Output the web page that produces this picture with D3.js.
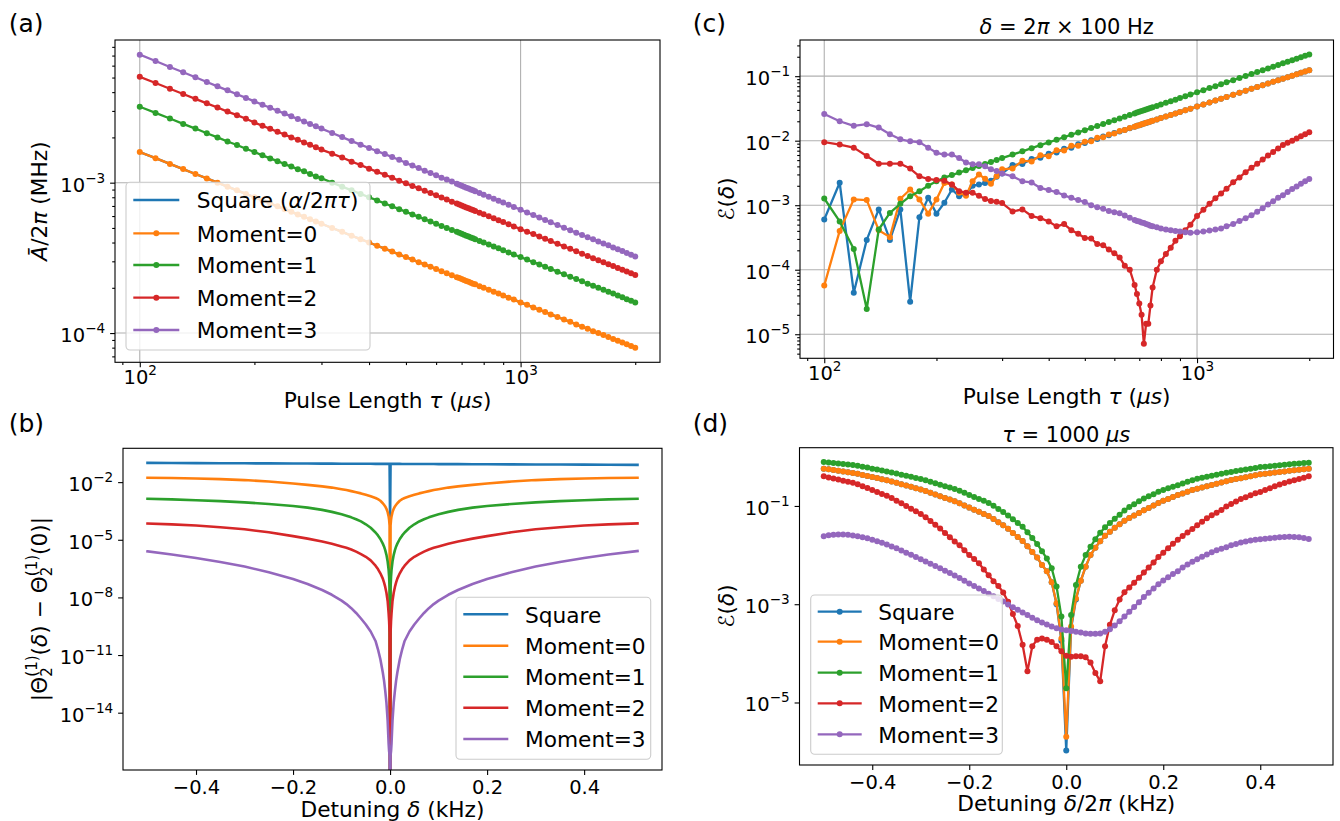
<!DOCTYPE html>
<html>
<head>
<meta charset="utf-8">
<script src="https://cdn.jsdelivr.net/npm/d3@7"></script>
<style>
  body { margin: 0; background: #fff; }
  text { white-space: pre; }
</style>
</head>
<body>
<div id="chart"></div>
<script>
// ---------- DATA ----------
// pulse lengths (us), shared by panels (a) and (c)
const tauGrid = [100,110,120,130,140,150,160,170,180,190,200,210,220,230,240,250,260,270,280,290,300,
  320,340,360,380,400,420,440,460,480,500,520,540,560,580,600,
  620,640,660,680,690,700,710,720,730,740,750,760,780,800,
  825,850,875,900,930,960,1000,
  1040,1080,1120,1160,1200,1250,1300,1350,1400,1450,1500,1550,1600,1650,1700,1750,1800,1850,1900,1950,2000];

// (a) mean amplitude A/2pi (MHz)
const ampSquare = [1.6e-3,1.455e-3,1.333e-3,1.231e-3,1.143e-3,1.067e-3,1.0e-3,9.41e-4,8.89e-4,8.42e-4,8.0e-4,7.62e-4,7.27e-4,6.96e-4,6.67e-4,6.4e-4,6.15e-4,5.93e-4,5.71e-4,5.52e-4,5.33e-4,
  5.0e-4,4.71e-4,4.44e-4,4.21e-4,4.0e-4,3.81e-4,3.64e-4,3.48e-4,3.33e-4,3.2e-4,3.08e-4,2.96e-4,2.86e-4,2.76e-4,2.67e-4,
  2.58e-4,2.5e-4,2.42e-4,2.35e-4,2.32e-4,2.29e-4,2.25e-4,2.22e-4,2.19e-4,2.16e-4,2.13e-4,2.11e-4,2.05e-4,2.0e-4,
  1.94e-4,1.88e-4,1.83e-4,1.78e-4,1.72e-4,1.67e-4,1.6e-4,
  1.54e-4,1.48e-4,1.43e-4,1.38e-4,1.33e-4,1.28e-4,1.23e-4,1.19e-4,1.14e-4,1.10e-4,1.07e-4,1.03e-4,1.0e-4,9.70e-5,9.41e-5,9.14e-5,8.89e-5,8.65e-5,8.42e-5,8.21e-5,8.0e-5];
const ampM0 = [1.6e-3,1.455e-3,1.333e-3,1.231e-3,1.143e-3,1.067e-3,1.0e-3,9.41e-4,8.89e-4,8.42e-4,8.0e-4,7.62e-4,7.27e-4,6.96e-4,6.67e-4,6.4e-4,6.15e-4,5.93e-4,5.71e-4,5.52e-4,5.33e-4,
  5.0e-4,4.71e-4,4.44e-4,4.21e-4,4.0e-4,3.81e-4,3.64e-4,3.48e-4,3.33e-4,3.2e-4,3.08e-4,2.96e-4,2.86e-4,2.76e-4,2.67e-4,
  2.58e-4,2.5e-4,2.42e-4,2.35e-4,2.32e-4,2.29e-4,2.25e-4,2.22e-4,2.19e-4,2.16e-4,2.13e-4,2.11e-4,2.05e-4,2.0e-4,
  1.94e-4,1.88e-4,1.83e-4,1.78e-4,1.72e-4,1.67e-4,1.6e-4,
  1.54e-4,1.48e-4,1.43e-4,1.38e-4,1.33e-4,1.28e-4,1.23e-4,1.19e-4,1.14e-4,1.10e-4,1.07e-4,1.03e-4,1.0e-4,9.70e-5,9.41e-5,9.14e-5,8.89e-5,8.65e-5,8.42e-5,8.21e-5,8.0e-5];
const ampM1 = [3.2e-3,2.91e-3,2.67e-3,2.46e-3,2.29e-3,2.13e-3,2.0e-3,1.88e-3,1.78e-3,1.68e-3,1.6e-3,1.52e-3,1.45e-3,1.39e-3,1.33e-3,1.28e-3,1.23e-3,1.19e-3,1.14e-3,1.10e-3,1.07e-3,
  1.0e-3,9.41e-4,8.89e-4,8.42e-4,8.0e-4,7.62e-4,7.27e-4,6.96e-4,6.67e-4,6.4e-4,6.15e-4,5.93e-4,5.71e-4,5.52e-4,5.33e-4,
  5.16e-4,5.0e-4,4.85e-4,4.71e-4,4.64e-4,4.57e-4,4.51e-4,4.44e-4,4.38e-4,4.32e-4,4.27e-4,4.21e-4,4.10e-4,4.0e-4,
  3.88e-4,3.76e-4,3.66e-4,3.56e-4,3.44e-4,3.33e-4,3.2e-4,
  3.08e-4,2.96e-4,2.86e-4,2.76e-4,2.67e-4,2.56e-4,2.46e-4,2.37e-4,2.29e-4,2.21e-4,2.13e-4,2.06e-4,2.0e-4,1.94e-4,1.88e-4,1.83e-4,1.78e-4,1.73e-4,1.68e-4,1.64e-4,1.6e-4];
const ampM2 = [5.06e-3,4.60e-3,4.21e-3,3.89e-3,3.61e-3,3.37e-3,3.16e-3,2.97e-3,2.81e-3,2.66e-3,2.51e-3,2.39e-3,2.28e-3,2.18e-3,2.09e-3,2.0e-3,1.93e-3,1.85e-3,1.79e-3,1.72e-3,1.66e-3,
  1.56e-3,1.47e-3,1.38e-3,1.31e-3,1.24e-3,1.18e-3,1.13e-3,1.08e-3,1.03e-3,9.9e-4,9.52e-4,9.17e-4,8.84e-4,8.53e-4,8.24e-4,
  7.97e-4,7.72e-4,7.48e-4,7.26e-4,7.15e-4,7.05e-4,6.94e-4,6.85e-4,6.75e-4,6.66e-4,6.57e-4,6.49e-4,6.32e-4,6.16e-4,
  5.97e-4,5.79e-4,5.63e-4,5.47e-4,5.29e-4,5.12e-4,4.91e-4,
  4.72e-4,4.55e-4,4.38e-4,4.23e-4,4.09e-4,3.92e-4,3.77e-4,3.63e-4,3.50e-4,3.37e-4,3.26e-4,3.15e-4,3.05e-4,2.96e-4,2.87e-4,2.79e-4,2.71e-4,2.64e-4,2.57e-4,2.50e-4,2.43e-4];
const ampM3 = [7.10e-3,6.44e-3,5.88e-3,5.42e-3,5.02e-3,4.67e-3,4.37e-3,4.11e-3,3.87e-3,3.66e-3,3.47e-3,3.30e-3,3.15e-3,3.01e-3,2.88e-3,2.76e-3,2.65e-3,2.55e-3,2.46e-3,2.37e-3,2.29e-3,
  2.14e-3,2.01e-3,1.89e-3,1.79e-3,1.70e-3,1.62e-3,1.55e-3,1.48e-3,1.42e-3,1.35e-3,1.30e-3,1.25e-3,1.20e-3,1.16e-3,1.12e-3,
  1.08e-3,1.05e-3,1.02e-3,9.83e-4,9.68e-4,9.54e-4,9.40e-4,9.27e-4,9.14e-4,9.01e-4,8.89e-4,8.77e-4,8.55e-4,8.31e-4,
  8.06e-4,7.82e-4,7.59e-4,7.38e-4,7.13e-4,6.90e-4,6.60e-4,
  6.33e-4,6.09e-4,5.86e-4,5.65e-4,5.46e-4,5.23e-4,5.02e-4,4.83e-4,4.65e-4,4.49e-4,4.34e-4,4.20e-4,4.07e-4,3.94e-4,3.83e-4,3.71e-4,3.61e-4,3.51e-4,3.41e-4,3.32e-4,3.23e-4];

// (c) error E(delta) at delta = 2pi x 100 Hz vs pulse length
const errTauSquare = [6.0e-4,2.23e-3,4.4e-5,2.9e-4,8.6e-4,2.9e-4,8.6e-4,3.2e-5,6.5e-4,1.3e-3,7.4e-4,1.09e-3,1.75e-3,1.38e-3,1.47e-3,2.0e-3,2.1e-3,2.2e-3,2.4e-3,2.75e-3,3.1e-3,
  4.19e-3,4.37e-3,5.22e-3,5.45e-3,6.30e-3,6.57e-3,7.53e-3,7.78e-3,8.77e-3,9.19e-3,1.02e-2,1.06e-2,1.16e-2,1.21e-2,1.32e-2,
  1.39e-2,1.47e-2,1.56e-2,1.65e-2,1.70e-2,1.74e-2,1.79e-2,1.84e-2,1.88e-2,1.93e-2,1.98e-2,2.03e-2,2.13e-2,2.24e-2,
  2.37e-2,2.50e-2,2.64e-2,2.79e-2,2.96e-2,3.14e-2,3.39e-2,
  3.65e-2,3.92e-2,4.19e-2,4.48e-2,4.77e-2,5.15e-2,5.54e-2,5.94e-2,6.36e-2,6.80e-2,7.24e-2,7.70e-2,8.17e-2,8.66e-2,9.15e-2,9.66e-2,0.1018,0.1072,0.1127,0.1182,0.124];
const errTauM0 = [5.7e-5,4.0e-4,1.23e-3,1.2e-3,4.1e-4,3.2e-4,1.26e-3,1.75e-3,1.23e-3,7.4e-4,1.23e-3,2.2e-3,2.1e-3,1.56e-3,1.4e-3,2.36e-3,3.0e-3,2.57e-3,2.15e-3,2.8e-3,3.6e-3,
  3.71e-3,4.87e-3,4.77e-3,5.95e-3,5.75e-3,7.10e-3,7.02e-3,8.34e-3,8.34e-3,9.65e-3,9.79e-3,1.11e-2,1.13e-2,1.25e-2,1.29e-2,
  1.41e-2,1.46e-2,1.57e-2,1.65e-2,1.71e-2,1.73e-2,1.80e-2,1.83e-2,1.89e-2,1.93e-2,1.98e-2,2.03e-2,2.13e-2,2.24e-2,
  2.37e-2,2.50e-2,2.64e-2,2.79e-2,2.96e-2,3.14e-2,3.39e-2,
  3.65e-2,3.92e-2,4.19e-2,4.48e-2,4.77e-2,5.15e-2,5.54e-2,5.94e-2,6.36e-2,6.80e-2,7.24e-2,7.70e-2,8.17e-2,8.66e-2,9.15e-2,9.66e-2,0.1018,0.1072,0.1127,0.1182,0.124];
const errTauM1 = [1.27e-3,5.6e-4,2.1e-4,2.46e-5,4.2e-4,7.6e-4,1.05e-3,1.38e-3,1.65e-3,2.0e-3,2.35e-3,2.68e-3,2.93e-3,3.20e-3,3.47e-3,3.76e-3,4.06e-3,4.37e-3,4.69e-3,5.03e-3,5.37e-3,
  6.09e-3,6.85e-3,7.66e-3,8.51e-3,9.41e-3,1.035e-2,1.133e-2,1.236e-2,1.342e-2,1.454e-2,1.57e-2,1.69e-2,1.814e-2,1.942e-2,2.075e-2,
  2.212e-2,2.353e-2,2.498e-2,2.648e-2,2.724e-2,2.803e-2,2.882e-2,2.96e-2,3.041e-2,3.123e-2,3.206e-2,3.289e-2,3.46e-2,3.636e-2,
  3.861e-2,4.091e-2,4.329e-2,4.573e-2,4.876e-2,5.188e-2,5.618e-2,
  6.06e-2,6.53e-2,7.01e-2,7.50e-2,8.02e-2,8.68e-2,9.37e-2,0.1008,0.1082,0.1159,0.1238,0.132,0.1404,0.1492,0.158,0.1673,0.1768,0.1865,0.1964,0.2065,0.217];
const errTauM2 = [9.5e-3,8.7e-3,7.8e-3,5.8e-3,4.4e-3,4.4e-3,4.4e-3,3.7e-3,2.8e-3,2.55e-3,2.45e-3,2.4e-3,2.1e-3,1.65e-3,1.56e-3,1.56e-3,1.4e-3,1.25e-3,1.16e-3,1.13e-3,1.08e-3,
  8.0e-4,8.6e-4,6.8e-4,6.3e-4,5.6e-4,4.7e-4,5.1e-4,4.1e-4,3.6e-4,3.1e-4,3.05e-4,2.5e-4,2.4e-4,2.05e-4,1.8e-4,
  1.55e-4,1.15e-4,1.0e-4,5.8e-5,4.2e-5,3.0e-5,2.0e-5,7.1e-6,1.45e-5,1.45e-5,2.8e-5,5.3e-5,1.0e-4,1.35e-4,
  1.75e-4,2.2e-4,2.8e-4,3.3e-4,4.1e-4,5.0e-4,6.8e-4,
  8.5e-4,1.05e-3,1.28e-3,1.52e-3,1.8e-3,2.27e-3,2.7e-3,3.25e-3,3.8e-3,4.4e-3,5.1e-3,5.9e-3,6.7e-3,7.6e-3,8.6e-3,9.3e-3,1.0e-2,1.08e-2,1.17e-2,1.26e-2,1.35e-2];
const errTauM3 = [2.6e-2,2.0e-2,1.7e-2,1.8e-2,1.6e-2,1.26e-2,1.05e-2,9.8e-3,9.5e-3,7.8e-3,6.5e-3,6.1e-3,6.1e-3,5.4e-3,4.6e-3,4.3e-3,4.3e-3,4.0e-3,3.6e-3,3.4e-3,3.1e-3,
  2.8e-3,2.35e-3,2.25e-3,1.85e-3,1.72e-3,1.6e-3,1.42e-3,1.3e-3,1.2e-3,1.12e-3,1.0e-3,9.3e-4,8.8e-4,8.1e-4,7.8e-4,
  7.5e-4,6.9e-4,6.4e-4,5.9e-4,5.7e-4,5.6e-4,5.4e-4,5.3e-4,5.1e-4,5.0e-4,4.8e-4,4.7e-4,4.55e-4,4.35e-4,
  4.2e-4,4.1e-4,4.0e-4,3.9e-4,3.8e-4,3.75e-4,3.8e-4,
  3.9e-4,4.05e-4,4.2e-4,4.35e-4,4.7e-4,5.1e-4,5.7e-4,6.3e-4,7.0e-4,7.9e-4,9.0e-4,1.03e-3,1.15e-3,1.3e-3,1.43e-3,1.6e-3,1.78e-3,1.95e-3,2.15e-3,2.35e-3,2.55e-3];

// (b) |Theta - Theta(0)| vs detuning (kHz); 0 = exact zero (drops off the log axis)
const detB = [-0.5,-0.45,-0.4,-0.35,-0.3,-0.25,-0.2,-0.17,-0.14,-0.12,-0.1,-0.09,-0.08,-0.07,-0.06,-0.05,-0.04,-0.03,-0.025,-0.02,-0.015,-0.0125,-0.01,-0.0075,-0.005,-0.003,-0.002,-0.001,
  0,
  0.001,0.002,0.003,0.005,0.0075,0.01,0.0125,0.015,0.02,0.025,0.03,0.04,0.05,0.06,0.07,0.08,0.09,0.1,0.12,0.14,0.17,0.2,0.25,0.3,0.35,0.4,0.45,0.51];
const thetaSquare = [0.100,0.0989,0.0977,0.0966,0.0955,0.0944,0.0933,0.0927,0.0920,0.0916,0.0912,0.0910,0.0908,0.0906,0.0904,0.0902,0.0899,0.0897,0.0896,0.0895,0.0894,0.0894,0.0893,0.0893,0.0892,0.0892,0.0892,0.0891,
  1.1e-4,
  0.0891,0.0891,0.0891,0.0890,0.0890,0.0889,0.0889,0.0888,0.0887,0.0886,0.0885,0.0883,0.0881,0.0879,0.0876,0.0874,0.0872,0.0870,0.0866,0.0862,0.0856,0.0850,0.0840,0.0830,0.0821,0.0812,0.0802,0.0791];
const thetaM0 = [1.69e-2,1.63e-2,1.55e-2,1.43e-2,1.28e-2,1.07e-2,8.5e-3,7.2e-3,6.0e-3,5.2e-3,4.3e-3,3.9e-3,3.4e-3,3.0e-3,2.6e-3,2.2e-3,1.85e-3,1.5e-3,1.3e-3,1.07e-3,8.0e-4,6.6e-4,5.45e-4,4.1e-4,2.75e-4,1.65e-4,1.1e-4,5.5e-5,
  0,
  5.5e-5,1.1e-4,1.65e-4,2.75e-4,4.1e-4,5.45e-4,6.6e-4,8.0e-4,1.07e-3,1.3e-3,1.5e-3,1.85e-3,2.2e-3,2.6e-3,3.0e-3,3.4e-3,3.9e-3,4.3e-3,5.2e-3,6.0e-3,7.2e-3,8.5e-3,1.07e-2,1.28e-2,1.43e-2,1.55e-2,1.63e-2,1.7e-2];
const thetaM1 = [1.36e-3,1.27e-3,1.15e-3,1.03e-3,8.8e-4,7.3e-4,5.7e-4,4.7e-4,3.59e-4,2.83e-4,2.13e-4,1.8e-4,1.47e-4,1.17e-4,9.0e-5,6.4e-5,4.2e-5,2.4e-5,1.68e-5,1.1e-5,6.3e-6,4.5e-6,2.9e-6,1.65e-6,7.4e-7,2.7e-7,1.2e-7,3.0e-8,
  0,
  3.0e-8,1.2e-7,2.7e-7,7.4e-7,1.65e-6,2.9e-6,4.5e-6,6.3e-6,1.1e-5,1.68e-5,2.4e-5,4.2e-5,6.4e-5,9.0e-5,1.17e-4,1.47e-4,1.8e-4,2.13e-4,2.83e-4,3.59e-4,4.7e-4,5.7e-4,7.3e-4,8.8e-4,1.03e-3,1.15e-3,1.27e-3,1.37e-3];
const thetaM2 = [7.0e-5,6.3e-5,5.5e-5,4.5e-5,3.5e-5,2.45e-5,1.55e-5,1.15e-5,8.2e-6,6.2e-6,4.5e-6,3.8e-6,3.1e-6,2.4e-6,1.8e-6,1.3e-6,8.5e-7,4.5e-7,3.0e-7,1.8e-7,9.5e-8,6.0e-8,3.5e-8,1.75e-8,6.5e-9,1.5e-9,6.0e-10,1.4e-10,
  0,
  1.4e-10,6.0e-10,1.5e-9,6.5e-9,1.75e-8,3.5e-8,6.0e-8,9.5e-8,1.8e-7,3.0e-7,4.5e-7,8.5e-7,1.3e-6,1.8e-6,2.4e-6,3.1e-6,3.8e-6,4.5e-6,6.2e-6,8.2e-6,1.15e-5,1.55e-5,2.45e-5,3.5e-5,4.5e-5,5.5e-5,6.3e-5,7.1e-5];
const thetaM3 = [2.5e-6,1.7e-6,1.12e-6,7.0e-7,4.1e-7,2.02e-7,9.1e-8,5.0e-8,2.43e-8,1.37e-8,6.8e-9,4.5e-9,2.76e-9,1.55e-9,8.0e-10,3.9e-10,1.68e-10,5.4e-11,2.0e-11,6.0e-12,1.24e-12,4.8e-13,1.4e-13,3.3e-14,3.8e-15,2.5e-16,1.0e-16,6.0e-17,
  0,
  6.0e-17,1.0e-16,2.5e-16,3.8e-15,3.3e-14,1.4e-13,4.8e-13,1.24e-12,6.0e-12,2.0e-11,5.4e-11,1.68e-10,3.9e-10,8.0e-10,1.55e-9,2.76e-9,4.5e-9,6.8e-9,1.37e-8,2.43e-8,5.0e-8,9.1e-8,2.02e-7,4.1e-7,7.0e-7,1.12e-6,1.7e-6,2.6e-6];

// (d) error E(delta) at tau = 1000 us vs detuning delta/2pi (kHz)
const detD = [-0.5,-0.49,-0.48,-0.47,-0.46,-0.45,-0.44,-0.43,-0.42,-0.41,-0.4,-0.39,-0.38,-0.37,-0.36,-0.35,-0.34,-0.33,-0.32,-0.31,
  -0.3,-0.29,-0.28,-0.27,-0.26,-0.25,-0.24,-0.23,-0.22,-0.21,-0.2,-0.19,-0.18,-0.17,-0.16,-0.15,-0.14,-0.13,-0.12,-0.11,
  -0.1,-0.09,-0.08,-0.07,-0.06,-0.05,-0.04,-0.03,-0.02,-0.01,0,0.01,0.02,0.03,0.04,0.05,0.06,0.07,0.08,0.09,0.1,
  0.11,0.12,0.13,0.14,0.15,0.16,0.17,0.18,0.19,0.2,0.21,0.22,0.23,0.24,0.25,0.26,0.27,0.28,0.29,0.3,
  0.31,0.32,0.33,0.34,0.35,0.36,0.37,0.38,0.39,0.4,0.41,0.42,0.43,0.44,0.45,0.46,0.47,0.48,0.49,0.5];
const errDetSquare = [0.575,0.556,0.537,0.519,0.501,0.484,0.468,0.450,0.429,0.407,
  0.388,0.369,0.351,0.334,0.315,0.296,0.278,0.261,0.245,0.230,
  0.216,0.201,0.185,0.171,0.158,0.146,0.135,0.124,0.113,0.102,
  0.0927,0.0838,0.0758,0.0686,0.0621,0.0543,0.0468,0.0403,0.0343,0.0283,
  0.0234,0.0193,0.0151,0.0116,8.9e-3,6.3e-3,4.7e-3,2.8e-3,1.0e-3,1.8e-4,
  1.05e-6,
  3.2e-4,1.25e-3,3.0e-3,5.8e-3,0.0100,0.0141,0.0192,0.0248,0.0300,0.0361,
  0.0424,0.0497,0.0570,0.0642,0.0722,0.0813,0.0912,0.102,0.115,0.127,
  0.139,0.153,0.167,0.180,0.195,0.210,0.224,0.238,0.252,0.268,
  0.284,0.301,0.320,0.336,0.352,0.367,0.385,0.403,0.421,0.441,
  0.453,0.465,0.478,0.491,0.504,0.518,0.533,0.547,0.561,0.575];
const errDetM0 = [0.575,0.556,0.537,0.519,0.501,0.484,0.468,0.450,0.429,0.407,
  0.388,0.369,0.351,0.334,0.315,0.296,0.278,0.261,0.245,0.230,
  0.216,0.201,0.185,0.171,0.158,0.146,0.135,0.124,0.113,0.102,
  0.0927,0.0838,0.0758,0.0686,0.0621,0.0543,0.0468,0.0403,0.0343,0.0283,
  0.0234,0.0193,0.0151,0.0116,8.9e-3,6.3e-3,4.7e-3,2.8e-3,1.05e-3,2.0e-4,
  2.0e-6,
  3.5e-4,1.3e-3,3.0e-3,5.8e-3,0.0100,0.0141,0.0192,0.0248,0.0300,0.0361,
  0.0424,0.0497,0.0570,0.0642,0.0722,0.0813,0.0912,0.102,0.115,0.127,
  0.139,0.153,0.167,0.180,0.195,0.210,0.224,0.238,0.252,0.268,
  0.284,0.301,0.320,0.336,0.352,0.367,0.385,0.403,0.421,0.441,
  0.453,0.465,0.478,0.491,0.504,0.518,0.533,0.547,0.561,0.575];
const errDetM1 = [0.78,0.764,0.746,0.729,0.713,0.697,0.681,0.655,0.631,0.603,
  0.575,0.551,0.526,0.502,0.480,0.456,0.433,0.411,0.391,0.371,
  0.352,0.332,0.310,0.290,0.271,0.253,0.237,0.221,0.203,0.185,
  0.168,0.153,0.139,0.127,0.115,0.101,0.087,0.075,0.064,0.0537,
  0.045,0.0377,0.0292,0.0222,0.0169,0.012,8.5e-3,5.4e-3,2.3e-3,5.6e-4,
  1.95e-5,
  6.0e-4,2.45e-3,5.8e-3,0.0100,0.0147,0.0211,0.0285,0.0368,0.0448,0.0546,
  0.0664,0.0807,0.0952,0.1086,0.124,0.141,0.157,0.174,0.194,0.211,
  0.228,0.246,0.265,0.286,0.310,0.335,0.356,0.373,0.392,0.411,
  0.432,0.453,0.475,0.493,0.512,0.531,0.551,0.573,0.594,0.617,
  0.631,0.646,0.661,0.676,0.692,0.708,0.724,0.735,0.746,0.759];
const errDetM2 = [0.40,0.381,0.362,0.344,0.327,0.311,0.295,0.277,0.253,0.231,
  0.211,0.193,0.176,0.161,0.145,0.128,0.113,0.0998,0.0881,0.0778,
  0.0687,0.059,0.0494,0.0414,0.0347,0.0283,0.0231,0.0189,0.0158,0.0126,
  0.0100,8.3e-3,6.8e-3,5.1e-3,3.9e-3,2.95e-3,2.35e-3,1.74e-3,1.12e-3,6.3e-4,
  3.6e-4,1.5e-4,4.3e-5,1.4e-4,1.9e-4,2.0e-4,1.9e-4,1.7e-4,1.4e-4,1.1e-4,
  8.9e-5,
  8.5e-5,8.7e-5,8.7e-5,8.3e-5,6.5e-5,4.0e-5,2.7e-5,1.4e-4,3.8e-4,7.5e-4,
  1.25e-3,1.75e-3,2.2e-3,2.75e-3,3.45e-3,4.4e-3,5.6e-3,7.1e-3,9.1e-3,0.0112,
  0.0138,0.0170,0.0204,0.0245,0.0288,0.0339,0.0407,0.0479,0.0562,0.0646,
  0.0724,0.0832,0.0977,0.110,0.123,0.138,0.151,0.166,0.182,0.192,
  0.210,0.230,0.251,0.274,0.293,0.314,0.335,0.355,0.376,0.40];
const errDetM3 = [0.0243,0.0252,0.0259,0.0263,0.0262,0.0258,0.0251,0.0242,0.0231,0.0219,
  0.0206,0.0192,0.0178,0.0164,0.0150,0.0137,0.0124,0.0112,0.0101,9.1e-3,
  8.2e-3,7.4e-3,6.7e-3,6.0e-3,5.4e-3,4.8e-3,4.3e-3,3.85e-3,3.4e-3,3.0e-3,
  2.65e-3,2.35e-3,2.08e-3,1.85e-3,1.64e-3,1.45e-3,1.28e-3,1.13e-3,9.9e-4,8.7e-4,
  7.7e-4,6.8e-4,6.0e-4,5.3e-4,4.7e-4,4.25e-4,3.85e-4,3.5e-4,3.25e-4,3.05e-4,
  2.95e-4,
  2.85e-4,2.75e-4,2.65e-4,2.55e-4,2.5e-4,2.5e-4,2.55e-4,2.75e-4,3.1e-4,3.7e-4,
  4.5e-4,5.6e-4,7.0e-4,8.8e-4,1.1e-3,1.4e-3,1.72e-3,2.1e-3,2.55e-3,3.05e-3,
  3.55e-3,4.1e-3,4.7e-3,5.6e-3,6.4e-3,7.3e-3,8.2e-3,9.2e-3,0.0103,0.0114,
  0.0125,0.0135,0.0145,0.0158,0.0169,0.0180,0.0189,0.0197,0.0204,0.0210,
  0.0216,0.0221,0.0226,0.0230,0.0233,0.0235,0.0234,0.0230,0.0224,0.0213];

const seriesNames = ["Square", "Moment=0", "Moment=1", "Moment=2", "Moment=3"];
const logMajorTau = [100, 1000];
const logMinorTau = [90, 200, 300, 400, 500, 600, 700, 800, 900, 2000];
const detTicks = [-0.4, -0.2, 0, 0.2, 0.4];

// ---------- SETUP ----------
const W = 1340, H = 821;
const FONT = "DejaVu Sans";
const colors = ["#1f77b4", "#ff7f0e", "#2ca02c", "#d62728", "#9467bd"];
const LW = 2.3, MR = 3.0;
const FS_TICK = 19.5, FS_LABEL = 21.7;

const svg = d3.select("#chart").append("svg")
  .attr("width", W).attr("height", H)
  .attr("font-family", FONT);
svg.append("rect").attr("width", W).attr("height", H).attr("fill", "#fff");
const defs = svg.append("defs");

function logDomain(arrays) {
  const all = arrays.flat().filter(v => v > 0);
  const lo = Math.log10(d3.min(all)), hi = Math.log10(d3.max(all));
  const pad = (hi - lo) * 0.05;
  return [Math.pow(10, lo - pad), Math.pow(10, hi + pad)];
}
function linDomain(arr) {
  const [lo, hi] = d3.extent(arr);
  const pad = (hi - lo) * 0.05;
  return [lo - pad, hi + pad];
}
function decades(dom) {
  const out = [];
  for (let e = Math.ceil(Math.log10(dom[0]) - 1e-9); e <= Math.floor(Math.log10(dom[1]) + 1e-9); e++) out.push(Math.pow(10, e));
  return out;
}
function minors(dom) {
  const out = [];
  for (let e = Math.floor(Math.log10(dom[0])); e <= Math.ceil(Math.log10(dom[1])); e++)
    for (let k = 2; k <= 9; k++) { const v = k * Math.pow(10, e); if (v >= dom[0] && v <= dom[1]) out.push(v); }
  return out;
}

// rich text: parts = [[string, italic?], ...]
function rich(t, parts) {
  parts.forEach(([s, it]) => t.append("tspan").attr("font-style", it ? "italic" : null).text(s));
  return t;
}

function styleAxis(a) {
  a.attr("font-family", FONT).attr("font-size", FS_TICK);
  a.select(".domain").remove();
  a.selectAll(".tick line").attr("stroke", "#000").attr("stroke-width", 1.1);
  a.selectAll(".tick text").attr("fill", "#000");
}
function powLabels(a, dy) {
  a.selectAll(".tick text").each(function (d) {
    const e = Math.round(Math.log10(d));
    const t = d3.select(this).text(null).attr("dy", dy);
    t.append("tspan").text("10");
    t.append("tspan").attr("dy", -9).attr("font-size", 13.6).text(e < 0 ? "\u2212" + (-e) : String(e));
  });
}

function panel(cfg) {
  const b = cfg.box;
  const g = svg.append("g");
  defs.append("clipPath").attr("id", cfg.id).append("rect")
    .attr("x", b.x0).attr("y", b.y0).attr("width", b.x1 - b.x0).attr("height", b.y1 - b.y0);
  if (cfg.grid) {
    const gg = g.append("g").attr("stroke", "#b0b0b0").attr("stroke-width", 1.1);
    gg.selectAll(".gx").data(cfg.xMajor).join("line")
      .attr("x1", d => cfg.x(d)).attr("x2", d => cfg.x(d)).attr("y1", b.y0).attr("y2", b.y1);
    gg.selectAll(".gy").data(cfg.yMajor).join("line")
      .attr("y1", d => cfg.y(d)).attr("y2", d => cfg.y(d)).attr("x1", b.x0).attr("x2", b.x1);
  }
  const plot = g.append("g").attr("clip-path", `url(#${cfg.id})`);
  return { g, plot, cfg };
}

function finish(p) {
  const { g, cfg } = p, b = cfg.box;
  const bx = g.append("g").attr("transform", `translate(0,${b.y1})`)
    .call(d3.axisBottom(cfg.x).tickValues(cfg.xMajor).tickSize(4.9).tickPadding(4.9)
      .tickFormat(cfg.xlog ? (d => d) : d3.format(".1f")));
  styleAxis(bx);
  if (cfg.xlog) powLabels(bx, "0.62em");
  if (cfg.xMinor) {
    const m = g.append("g").attr("transform", `translate(0,${b.y1})`)
      .call(d3.axisBottom(cfg.x).tickValues(cfg.xMinor).tickSize(2.8).tickFormat(""));
    styleAxis(m);
  }
  const by = g.append("g").attr("transform", `translate(${b.x0},0)`)
    .call(d3.axisLeft(cfg.y).tickValues(cfg.yMajor).tickSize(4.9).tickPadding(4.9).tickFormat(d => d));
  styleAxis(by);
  powLabels(by, "0.43em");
  if (cfg.yMinor) {
    const m = g.append("g").attr("transform", `translate(${b.x0},0)`)
      .call(d3.axisLeft(cfg.y).tickValues(cfg.yMinor).tickSize(2.8).tickFormat(""));
    styleAxis(m);
  }
  g.append("rect").attr("x", b.x0).attr("y", b.y0).attr("width", b.x1 - b.x0).attr("height", b.y1 - b.y0)
    .attr("fill", "none").attr("stroke", "#000").attr("stroke-width", 1.1);
}

function drawSeries(p, xv, yv, color, marker, lw) {
  const { x, y, box } = p.cfg;
  const pts = xv.map((xx, i) => [x(xx), yv[i] > 0 ? y(yv[i]) : box.y1 + 80]);
  p.plot.append("path").attr("d", d3.line()(pts))
    .attr("fill", "none").attr("stroke", color).attr("stroke-width", lw)
    .attr("stroke-linejoin", "round").attr("stroke-linecap", "square");
  if (marker) {
    p.plot.append("g").attr("fill", color).selectAll("circle").data(pts).join("circle")
      .attr("cx", d => d[0]).attr("cy", d => d[1]).attr("r", MR);
  }
}

function legend(spec) {
  const lg = svg.append("g");
  const [x0, y0, x1, y1] = spec.box;
  lg.append("rect").attr("x", x0).attr("y", y0).attr("width", x1 - x0).attr("height", y1 - y0)
    .attr("rx", 4).attr("fill", "#fff").attr("fill-opacity", 0.8)
    .attr("stroke", "#cccccc").attr("stroke-width", 1.1);
  spec.items.forEach((it, i) => {
    const yy = spec.rows[i];
    lg.append("line").attr("x1", spec.hx[0]).attr("x2", spec.hx[1]).attr("y1", yy).attr("y2", yy)
      .attr("stroke", it.color).attr("stroke-width", spec.lw || LW);
    if (it.marker) lg.append("circle").attr("cx", (spec.hx[0] + spec.hx[1]) / 2).attr("cy", yy).attr("r", MR).attr("fill", it.color);
    const t = lg.append("text").attr("x", spec.tx).attr("y", yy + 8.2).attr("font-size", FS_LABEL);
    rich(t, it.parts);
  });
}

function xLabel(x, y, parts) {
  rich(svg.append("text").attr("x", x).attr("y", y).attr("text-anchor", "middle").attr("font-size", FS_LABEL), parts);
}
function yLabel(x, y, parts) {
  return rich(svg.append("text").attr("transform", `translate(${x},${y}) rotate(-90)`)
    .attr("text-anchor", "middle").attr("font-size", FS_LABEL), parts);
}
function panelTag(x, y, s) {
  svg.append("text").attr("x", x).attr("y", y).attr("font-size", 25).text(s);
}

// ---------- PANEL (a) ----------
const boxA = { x0: 115, x1: 660, y0: 40, y1: 362.3 };
const xDomTau = (() => { const e = d3.extent(tauGrid); const l0 = Math.log10(e[0]), l1 = Math.log10(e[1]), p = (l1 - l0) * 0.05; return [Math.pow(10, l0 - p), Math.pow(10, l1 + p)]; })();
const yDomA = logDomain([ampSquare, ampM0, ampM1, ampM2, ampM3]);
const pA = panel({
  id: "clipA", box: boxA, grid: true, xlog: true,
  x: d3.scaleLog().domain(xDomTau).range([boxA.x0, boxA.x1]),
  y: d3.scaleLog().domain(yDomA).range([boxA.y1, boxA.y0]),
  xMajor: logMajorTau, xMinor: logMinorTau,
  yMajor: decades(yDomA), yMinor: minors(yDomA)
});
[ampSquare, ampM0, ampM1, ampM2, ampM3].forEach((s, i) => drawSeries(pA, tauGrid, s, colors[i], i > 0, LW));
finish(pA);
legend({
  box: [126, 182.3, 370, 350], rows: [200, 233.3, 265, 297.7, 330], hx: [133.3, 179.3], tx: 196.7,
  items: [
    { color: colors[0], marker: false, parts: [["Square (", 0], ["\u03b1", 1], ["/2", 0], ["\u03c0\u03c4", 1], [")", 0]] },
    { color: colors[1], marker: true, parts: [[seriesNames[1], 0]] },
    { color: colors[2], marker: true, parts: [[seriesNames[2], 0]] },
    { color: colors[3], marker: true, parts: [[seriesNames[3], 0]] },
    { color: colors[4], marker: true, parts: [[seriesNames[4], 0]] }
  ]
});
xLabel(387.5, 407.5, [["Pulse Length ", 0], ["\u03c4", 1], [" (", 0], ["\u03bcs", 1], [")", 0]]);
yLabel(47, 201, [["\u0100", 1], ["/2", 0], ["\u03c0", 1], [" (MHz)", 0]]);
panelTag(8.7, 31.7, "(a)");

// ---------- PANEL (c) ----------
const boxC = { x0: 800, x1: 1333.5, y0: 40, y1: 358.3 };
const yDomC = logDomain([errTauSquare, errTauM0, errTauM1, errTauM2, errTauM3]);
const pC = panel({
  id: "clipC", box: boxC, grid: true, xlog: true,
  x: d3.scaleLog().domain(xDomTau).range([boxC.x0, boxC.x1]),
  y: d3.scaleLog().domain(yDomC).range([boxC.y1, boxC.y0]),
  xMajor: logMajorTau, xMinor: logMinorTau,
  yMajor: decades(yDomC), yMinor: minors(yDomC)
});
[errTauSquare, errTauM0, errTauM1, errTauM2, errTauM3].forEach((s, i) => drawSeries(pC, tauGrid, s, colors[i], true, LW));
finish(pC);
xLabel(1066.7, 403.5, [["Pulse Length ", 0], ["\u03c4", 1], [" (", 0], ["\u03bcs", 1], [")", 0]]);
yLabel(734, 199, [["\u2130(", 0], ["\u03b4", 1], [")", 0]]);
rich(svg.append("text").attr("x", 1066.7).attr("y", 33.5).attr("text-anchor", "middle").attr("font-size", 21),
  [["\u03b4", 1], [" = 2", 0], ["\u03c0", 1], [" \u00d7 100 Hz", 0]]);
panelTag(692.7, 31.7, "(c)");

// ---------- PANEL (b) ----------
const boxB = { x0: 123, x1: 662, y0: 448.3, y1: 770 };
const yDomB = logDomain([thetaSquare, thetaM0, thetaM1, thetaM2, thetaM3]);
const pB = panel({
  id: "clipB", box: boxB, grid: false, xlog: false,
  x: d3.scaleLinear().domain(linDomain(detB)).range([boxB.x0, boxB.x1]),
  y: d3.scaleLog().domain(yDomB).range([boxB.y1, boxB.y0]),
  xMajor: detTicks,
  yMajor: [1e-2, 1e-5, 1e-8, 1e-11, 1e-14]
});
[thetaSquare, thetaM0, thetaM1, thetaM2, thetaM3].forEach((s, i) => drawSeries(pB, detB, s, colors[i], false, 2.6));
finish(pB);
legend({
  box: [456, 597.3, 650.7, 759.3], rows: [614.3, 645.7, 676.7, 707.7, 739], hx: [463.3, 508.3], tx: 525, lw: 2.6,
  items: seriesNames.map((n, i) => ({ color: colors[i], marker: false, parts: [[n, 0]] }))
});
xLabel(392.5, 816.5, [["Detuning ", 0], ["\u03b4", 1], [" (kHz)", 0]]);
{
  const t = svg.append("text").attr("transform", "translate(47,609) rotate(-90)")
    .attr("text-anchor", "middle").attr("font-size", FS_LABEL);
  t.append("tspan").text("|\u0398");
  t.append("tspan").attr("font-size", 15).attr("dy", 5).text("2");
  t.append("tspan").attr("font-size", 15).attr("dx", -9.5).attr("dy", -15).text("(1)");
  t.append("tspan").attr("dy", 10).text("(");
  t.append("tspan").attr("font-style", "italic").text("\u03b4");
  t.append("tspan").text(") \u2212 \u0398");
  t.append("tspan").attr("font-size", 15).attr("dy", 5).text("2");
  t.append("tspan").attr("font-size", 15).attr("dx", -9.5).attr("dy", -15).text("(1)");
  t.append("tspan").attr("dy", 10).text("(0)|");
}
panelTag(8.7, 431.7, "(b)");

// ---------- PANEL (d) ----------
const boxD = { x0: 799.5, x1: 1333, y0: 447.7, y1: 765 };
const yDomD = logDomain([errDetSquare, errDetM0, errDetM1, errDetM2, errDetM3]);
const pD = panel({
  id: "clipD", box: boxD, grid: false, xlog: false,
  x: d3.scaleLinear().domain(linDomain(detD)).range([boxD.x0, boxD.x1]),
  y: d3.scaleLog().domain(yDomD).range([boxD.y1, boxD.y0]),
  xMajor: detTicks,
  yMajor: [1e-1, 1e-3, 1e-5]
});
[errDetSquare, errDetM0, errDetM1, errDetM2, errDetM3].forEach((s, i) => drawSeries(pD, detD, s, colors[i], true, LW));
finish(pD);
legend({
  box: [810.7, 595, 1002.3, 754.3], rows: [611.7, 641.7, 672.7, 703.3, 734.3], hx: [817.7, 861.7], tx: 878.3,
  items: seriesNames.map((n, i) => ({ color: colors[i], marker: true, parts: [[n, 0]] }))
});
xLabel(1066.3, 811, [["Detuning ", 0], ["\u03b4", 1], ["/2", 0], ["\u03c0", 1], [" (kHz)", 0]]);
yLabel(734, 606, [["\u2130(", 0], ["\u03b4", 1], [")", 0]]);
rich(svg.append("text").attr("x", 1066.3).attr("y", 441.5).attr("text-anchor", "middle").attr("font-size", 21),
  [["\u03c4", 1], [" = 1000 ", 0], ["\u03bcs", 1]]);
panelTag(692.7, 431.7, "(d)");
</script>
</body>
</html>
